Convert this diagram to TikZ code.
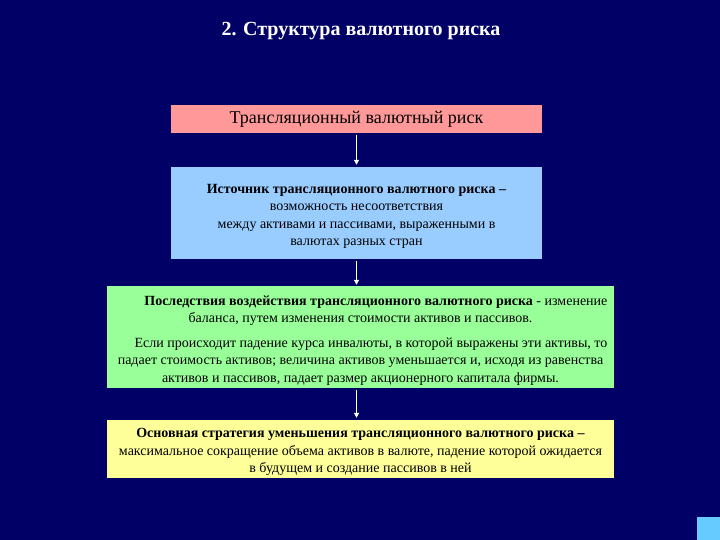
\documentclass[tikz,border=0pt]{standalone}
\usepackage{fontspec}
\setmainfont{Liberation Serif}
\usetikzlibrary{positioning,calc,arrows.meta}
\definecolor{slideNavy}{HTML}{000066}
\definecolor{riskPink}{HTML}{FF9999}
\definecolor{riskBlue}{HTML}{99CCFF}
\definecolor{riskGreen}{HTML}{99FF99}
\definecolor{riskYellow}{HTML}{FFFF99}
\definecolor{cornerBlue}{HTML}{66CCFF}
\newcommand{\toplift}{\rule{0pt}{16pt}}

\begin{document}
\begin{tikzpicture}[x=1pt,y=-1pt,
  box/.style={inner sep=0pt,align=center,text=black,font=\fontsize{14}{17.5}\selectfont},
  flow/.style={draw=white,line width=1pt,-{Triangle[width=5pt,length=5pt]}}]
% slide background
\fill[slideNavy] (0,0) rectangle (720,540);
\useasboundingbox (0,0) rectangle (720,540);
\fill[cornerBlue] (697,517) rectangle (720,540);
\node[font=\fontsize{20}{22}\selectfont\bfseries,text=white] (title) at (361,31) {2. Структура валютного риска};
% boxes
\node[box,fill=riskPink,minimum width=371pt,minimum height=28pt,font=\fontsize{18}{20}\selectfont] (kind) at (356.5,119) {Трансляционный валютный риск};
\node[box,fill=riskBlue,minimum width=371pt,minimum height=92pt] (source) at (356.5,213)
  {\toplift\textbf{Источник трансляционного валютного риска –}\\
   возможность несоответствия\\
   между активами и пассивами, выраженными в\\
   валютах разных стран};
\node[box,fill=riskGreen,minimum width=507pt,minimum height=102pt] (effect) at (360.5,337)
  {\toplift\hspace*{2.2em}\textbf{Последствия воздействия трансляционного валютного риска} - изменение\\
   баланса, путем изменения стоимости активов и пассивов.\\[7pt]
   \hspace*{1.5em}Если происходит падение курса инвалюты, в которой выражены эти активы, то\\
   падает стоимость активов; величина активов уменьшается и, исходя из равенства\\
   активов и пассивов, падает размер акционерного капитала фирмы.};
\node[box,fill=riskYellow,minimum width=507pt,minimum height=58pt] (strategy) at (360.5,449)
  {\toplift\textbf{Основная стратегия уменьшения трансляционного валютного риска –}\\
   максимальное сокращение объема активов в валюте, падение которой ожидается\\
   в будущем и создание пассивов в ней};
% arrows
\draw[flow] ([yshift=-2pt]kind.south) -- ([yshift=2pt]source.north);
\draw[flow] ([yshift=-2pt]source.south) -- ([yshift=1pt]source.south |- effect.north);
\draw[flow] ([yshift=-2pt]source.south |- effect.south) -- ([yshift=2pt]source.south |- strategy.north);
\end{tikzpicture}
\end{document}
